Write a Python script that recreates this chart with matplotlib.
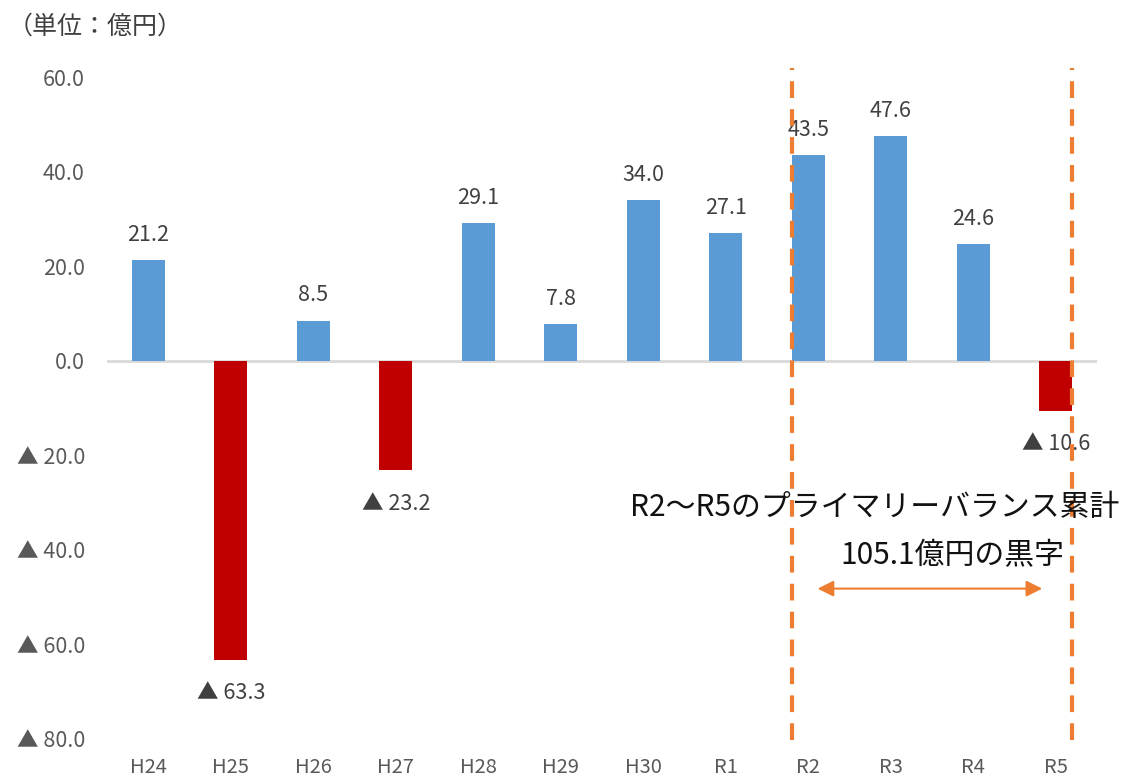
import matplotlib
matplotlib.use("Agg")
from matplotlib import pyplot as plt
from matplotlib.ticker import FuncFormatter, MultipleLocator

plt.rcParams["font.family"] = ["Noto Sans CJK JP", "DejaVu Sans"]

years = ["H24", "H25", "H26", "H27", "H28", "H29", "H30", "R1", "R2", "R3", "R4", "R5"]
balance = [21.2, -63.3, 8.5, -23.2, 29.1, 7.8, 34.0, 27.1, 43.5, 47.6, 24.6, -10.6]

unit_label = "（単位：億円）"
note_line1 = "R2～R5のプライマリーバランス累計"
note_line2 = "105.1億円の黒字"

BLUE = "#5B9BD5"
RED = "#C00000"
ORANGE = "#ED7D31"


def fmt(v):
    if v < 0:
        return f"▲ {abs(v):.1f}"
    return f"{v:.1f}"


fig = plt.figure(figsize=(11.22, 7.82), dpi=100)
ax = fig.add_axes([0.0954, 0.055, 0.8823, 0.8465])

x = list(range(len(years)))
colors = [BLUE if v >= 0 else RED for v in balance]
ax.bar(x, balance, width=0.4, color=colors, zorder=2)

for xi, v in zip(x, balance):
    if v >= 0:
        ax.text(xi, v + 5.3, fmt(v), ha="center", va="center", fontsize=15.5, color="#404040")
    else:
        ax.text(xi, v - 7.0, fmt(v), ha="center", va="center", fontsize=15.5, color="#404040")

ax.axhline(0, color="#D9D9D9", lw=2, zorder=1)

ax.set_xlim(-0.5, len(years) - 0.5)
ax.set_ylim(-80, 60)
ax.yaxis.set_major_locator(MultipleLocator(20))
ax.yaxis.set_major_formatter(FuncFormatter(lambda v, p: fmt(v)))
ax.set_xticks(x)
ax.set_xticklabels(years)
ax.tick_params(axis="y", length=0, labelsize=15.5, labelcolor="#595959", pad=16)
ax.tick_params(axis="x", length=0, labelsize=14.5, labelcolor="#595959", pad=13)
for s in ax.spines.values():
    s.set_visible(False)

# R2-R5 bracket lines
for xv in (7.8, 11.2):
    ax.plot([xv, xv], [-80.3, 62], color=ORANGE, lw=3, dashes=(4, 2.7), clip_on=False, zorder=3)

ax.annotate("", xy=(8.08, -48.2), xytext=(10.87, -48.2),
            arrowprops=dict(arrowstyle="<|-|>", color=ORANGE, lw=1.5, mutation_scale=24))
ax.text(8.8, -31.0, note_line1, ha="center", va="center", fontsize=21.5, color="#111111")
ax.text(9.75, -41.3, note_line2, ha="center", va="center", fontsize=21.5, color="#111111")

fig.text(8 / 1122, 1 - 27 / 782, unit_label, ha="left", va="center", fontsize=18, color="#404040")

fig.savefig("out.png", dpi=100)
